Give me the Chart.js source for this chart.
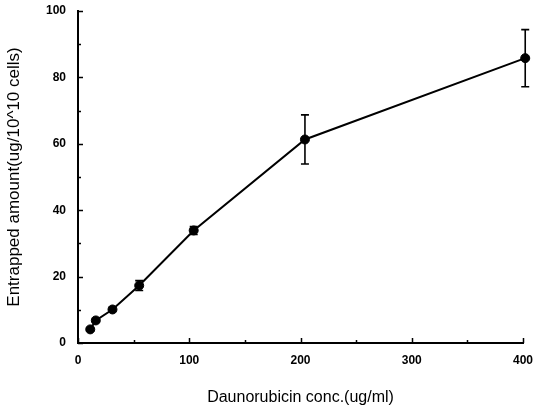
<!DOCTYPE html>
<html>
<head>
<meta charset="utf-8">
<script src="https://cdn.jsdelivr.net/npm/chart.js@4/dist/chart.umd.min.js"></script>
<style>
html,body{margin:0;padding:0;background:#fff;}
#wrap{width:533px;height:412px;position:relative;}
</style>
</head>
<body>
<div id="wrap"><canvas id="c" width="533" height="412"></canvas></div>
<script>
// Data
const concentrations = [11, 16, 31, 55, 104, 204, 402];
const entrapped = [4.1, 6.8, 10.1, 17.3, 33.9, 61.3, 85.8];
const errors = [0.5, 0.6, 0.6, 1.5, 1.2, 7.4, 8.6];
const xTicks = [0, 100, 200, 300, 400];
const yTicks = [0, 20, 40, 60, 80, 100];
const xTitle = 'Daunorubicin conc.(ug/ml)';
const yTitle = 'Entrapped amount(ug/10^10 cells)';

const points = concentrations.map((x, i) => ({x: x, y: entrapped[i]}));

const errorBarPlugin = {
  id: 'errorBars',
  afterDatasetsDraw(chart) {
    const ctx = chart.ctx;
    const xs = chart.scales.x, ys = chart.scales.y;
    ctx.save();
    ctx.strokeStyle = '#000';
    ctx.lineWidth = 1.6;
    concentrations.forEach((x, i) => {
      const px = xs.getPixelForValue(x);
      const top = ys.getPixelForValue(entrapped[i] + errors[i]);
      const bot = ys.getPixelForValue(entrapped[i] - errors[i]);
      ctx.beginPath();
      ctx.moveTo(px, top); ctx.lineTo(px, bot);
      ctx.moveTo(px - 4, top); ctx.lineTo(px + 4, top);
      ctx.moveTo(px - 4, bot); ctx.lineTo(px + 4, bot);
      ctx.stroke();
    });
    ctx.restore();
  }
};

const tickPlugin = {
  id: 'innerTicks',
  afterDraw(chart) {
    const ctx = chart.ctx;
    const xs = chart.scales.x, ys = chart.scales.y;
    const a = chart.chartArea;
    ctx.save();
    ctx.strokeStyle = '#000';
    ctx.lineWidth = 1.5;
    ctx.beginPath();
    for (let v = 0; v <= 100; v += 10) {
      const py = Math.round(ys.getPixelForValue(v)) + 0.5;
      const len = (v % 20 === 0) ? 5 : 3;
      ctx.moveTo(a.left, py); ctx.lineTo(a.left + len, py);
    }
    for (let v = 0; v <= 400; v += 50) {
      const px = Math.round(xs.getPixelForValue(v)) + 0.5;
      const len = (v % 100 === 0) ? 5 : 3;
      ctx.moveTo(px, a.bottom); ctx.lineTo(px, a.bottom - len);
    }
    ctx.stroke();
    ctx.restore();
  }
};

const FONT = 'Liberation Sans, Arial, sans-serif';

new Chart(document.getElementById('c'), {
  type: 'scatter',
  data: {
    datasets: [{
      data: points,
      showLine: true,
      clip: false,
      borderColor: '#000',
      backgroundColor: '#000',
      borderWidth: 2,
      pointRadius: 4.5,
      pointBorderWidth: 1,
      pointBackgroundColor: '#000',
      pointBorderColor: '#000'
    }]
  },
  options: {
    responsive: false,
    animation: false,
    events: [],
    layout: {padding: {left: 4, top: 11, right: 10, bottom: 5}},
    plugins: {legend: {display: false}, tooltip: {enabled: false}},
    scales: {
      x: {
        type: 'linear',
        min: 0, max: 400,
        afterBuildTicks(s) { s.ticks = xTicks.map(v => ({value: v})); },
        afterFit(s) { s.height = 64; s.paddingLeft = 0; s.paddingRight = 0; },
        grid: {display: false, drawTicks: false},
        border: {display: true, color: '#000', width: 2},
        ticks: {color: '#000', padding: 10, maxRotation: 0, font: {family: FONT, size: 12, weight: 'bold'}},
        title: {display: true, text: xTitle, color: '#000', padding: {top: 0, bottom: 0}, font: {family: FONT, size: 16}}
      },
      y: {
        min: 0, max: 100,
        afterBuildTicks(s) { s.ticks = yTicks.map(v => ({value: v})); },
        afterFit(s) { s.width = 74; s.paddingTop = 0; s.paddingBottom = 0; },
        grid: {display: false, drawTicks: false},
        border: {display: true, color: '#000', width: 2},
        ticks: {color: '#000', padding: 12, font: {family: FONT, size: 12, weight: 'bold'}},
        title: {display: true, text: yTitle, color: '#000', padding: {top: 0, bottom: 0}, font: {family: FONT, size: 17}}
      }
    }
  },
  plugins: [errorBarPlugin, tickPlugin]
});
</script>
</body>
</html>
